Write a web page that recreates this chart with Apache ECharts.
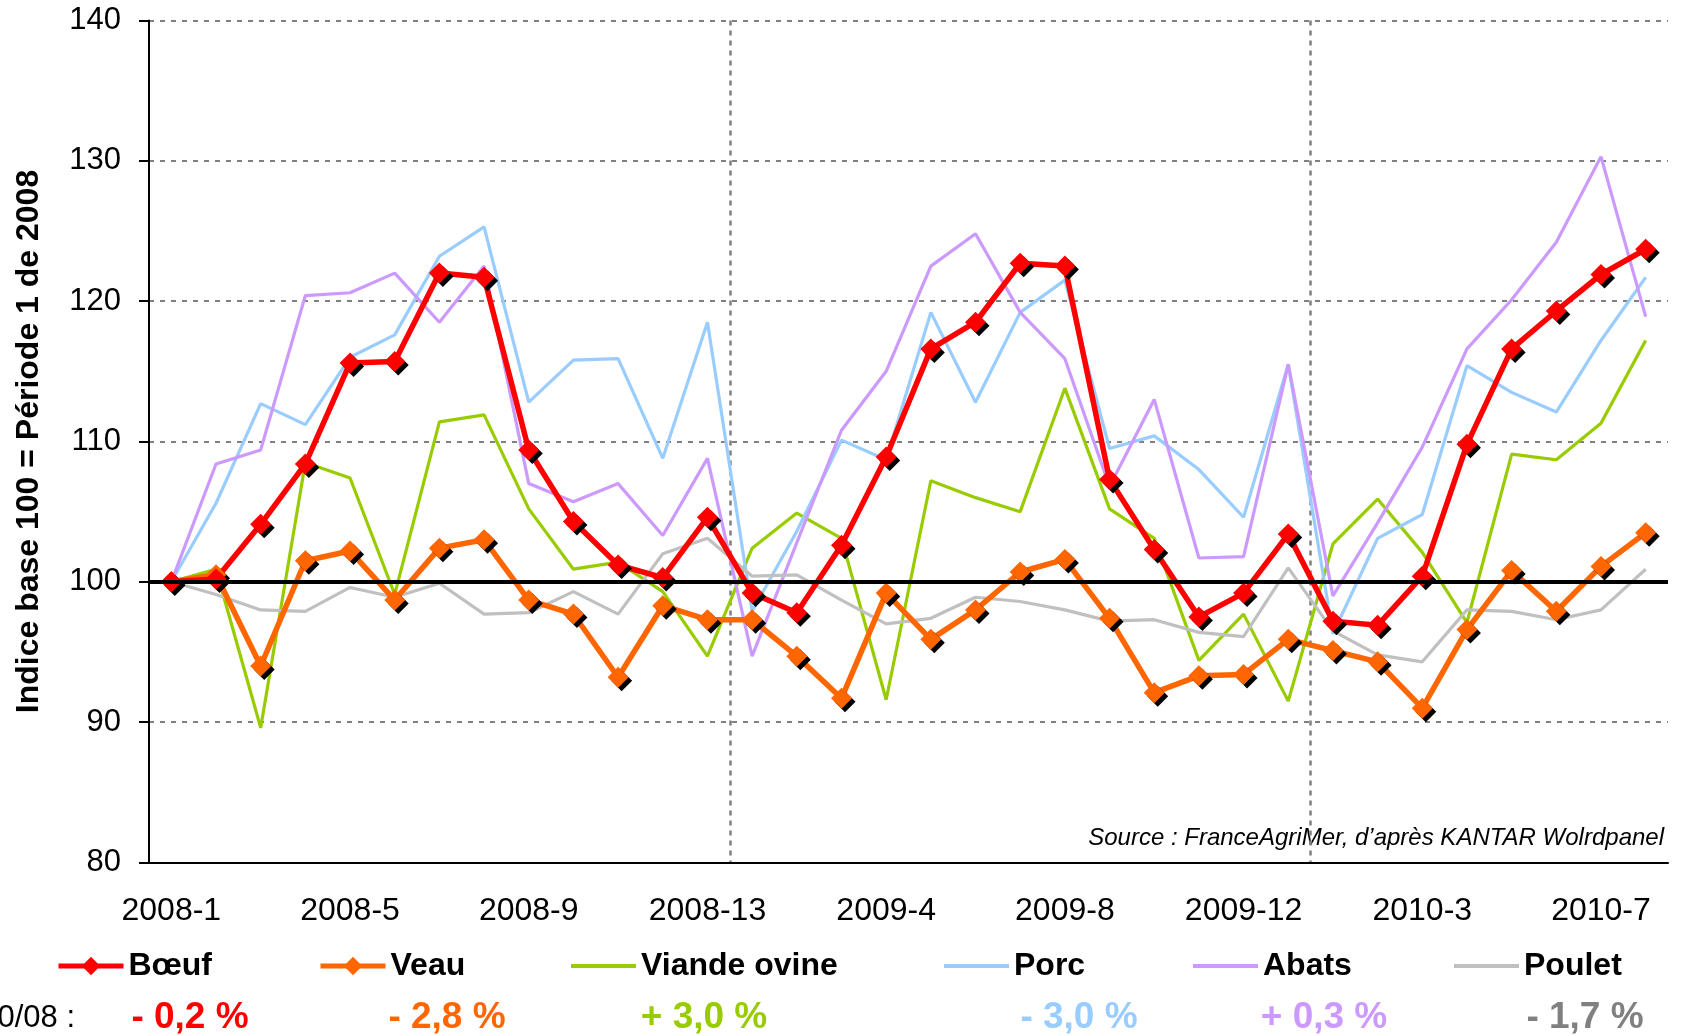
<!DOCTYPE html>
<html>
<head>
<meta charset="utf-8">
<title>Indice base 100</title>
<script src="https://cdn.jsdelivr.net/npm/echarts@6/dist/echarts.min.js"></script>
<style>
  html, body { margin: 0; padding: 0; background: #fff; }
  #chart { width: 1682px; height: 1036px; }
</style>
</head>
<body>
<div id="chart"></div>
<script>
// periods (13 per year)
const categories = [
  '2008-1', '2008-2', '2008-3', '2008-4', '2008-5', '2008-6', '2008-7', '2008-8', '2008-9', '2008-10', '2008-11', '2008-12', '2008-13',
  '2009-1', '2009-2', '2009-3', '2009-4', '2009-5', '2009-6', '2009-7', '2009-8', '2009-9', '2009-10', '2009-11', '2009-12', '2009-13',
  '2010-1', '2010-2', '2010-3', '2010-4', '2010-5', '2010-6', '2010-7', '2010-8'
]
// first period of each new year -> vertical separator
const yearStarts = ['2009-1', '2010-1']

const boeuf = [100.0, 100.2, 104.1, 108.4, 115.6, 115.7, 122.0, 121.7, 109.4, 104.3, 101.2, 100.3, 104.6,
  99.2, 97.8, 102.6, 108.9, 116.6, 118.5, 122.7, 122.5, 107.3, 102.3, 97.5, 99.2, 103.4,
  97.2, 96.9, 100.4, 109.8, 116.6, 119.3, 121.9, 123.7]
const veau = [100.0, 100.5, 94.0, 101.5, 102.2, 98.7, 102.4, 103.0, 98.7, 97.7, 93.2, 98.3, 97.3,
  97.3, 94.7, 91.7, 99.2, 95.9, 98.0, 100.7, 101.6, 97.4, 92.1, 93.3, 93.4, 95.9,
  95.1, 94.3, 91.0, 96.6, 100.8, 97.9, 101.1, 103.5]
const viandeOvine = [100.0, 100.9, 89.6, 108.5, 107.4, 99.1, 111.4, 111.9, 105.2, 100.9, 101.4, 99.3, 94.7,
  102.4, 104.9, 103.1, 91.6, 107.2, 106.0, 105.0, 113.8, 105.2, 103.1, 94.4, 97.7, 91.5,
  102.7, 105.9, 102.1, 97.1, 109.1, 108.7, 111.3, 117.2]
const porc = [100.0, 105.6, 112.7, 111.2, 116.0, 117.6, 123.2, 125.3, 112.8, 115.8, 115.9, 108.8, 118.5,
  97.9, 103.6, 110.1, 108.7, 119.2, 112.8, 119.2, 121.5, 109.5, 110.4, 108.0, 104.6, 115.5,
  96.3, 103.1, 104.8, 115.4, 113.5, 112.1, 117.2, 121.7]
const abats = [100.0, 108.4, 109.4, 120.4, 120.6, 122.0, 118.5, 122.5, 107.0, 105.7, 107.0, 103.3, 108.8,
  94.7, 102.8, 110.8, 115.0, 122.5, 124.8, 119.2, 115.9, 106.8, 113.0, 101.7, 101.8, 115.5,
  99.0, 104.2, 109.6, 116.6, 120.1, 124.2, 130.3, 118.9]
const poulet = [100.0, 99.1, 98.0, 97.9, 99.6, 98.9, 99.9, 97.7, 97.8, 99.3, 97.7, 102.0, 103.1,
  100.4, 100.5, 98.7, 97.0, 97.4, 98.9, 98.6, 98.0, 97.2, 97.3, 96.4, 96.1, 101.0,
  96.5, 94.8, 94.3, 98.0, 97.9, 97.3, 98.0, 100.9]

const baseLine = 100

const seriesNames = ['Bœuf', 'Veau', 'Viande ovine', 'Porc', 'Abats', 'Poulet']
const seriesColors = ['#FF0000', '#FF6600', '#99CC00', '#99CCFF', '#CC99FF', '#C0C0C0']
const hasMarker = [true, true, false, false, false, false]
const evolLabels = ['- 0,2 %', '- 2,8 %', '+ 3,0 %', '- 3,0 %', '+ 0,3 %', '- 1,7 %']
const evolColors = ['#FF0000', '#FF6600', '#99CC00', '#99CCFF', '#CC99FF', '#808080']

const FONT = '"Liberation Sans", Arial, sans-serif'

// legend and evolution row positions (x of left edge / center)
const legendLeft = [56, 318, 571, 944, 1193, 1454]
const evolCenter = [190, 447, 704, 1079, 1324, 1585]

const chart = echarts.init(document.getElementById('chart'))

const lineSeries = (name, data, i) => ({
  name: name,
  type: 'line',
  data: data,
  z: hasMarker[i] ? 4 : 2,
  symbol: hasMarker[i] ? 'diamond' : 'none',
  symbolSize: 21,
  showAllSymbol: true,
  color: seriesColors[i],
  lineStyle: { color: seriesColors[i], width: hasMarker[i] ? 5.5 : 3.2 },
  itemStyle: hasMarker[i] ? {
    color: seriesColors[i],
    shadowColor: '#000',
    shadowBlur: 0,
    shadowOffsetX: 3.5,
    shadowOffsetY: 3.5
  } : { color: seriesColors[i] },
  emphasis: { disabled: true }
})

// one legend per item so each can sit where it does in the original
const legends = seriesNames.map((n, i) => {
  const lg = {
    data: [n],
    left: legendLeft[i],
    top: 950,
    padding: 0,
    itemWidth: 65,
    selectedMode: false,
    textStyle: { fontFamily: FONT, fontSize: 32, fontWeight: 'bold', color: '#000' }
  }
  if (hasMarker[i]) {
    lg.itemHeight = 23
    lg.lineStyle = { width: 5 }
    lg.itemStyle = { shadowBlur: 0, shadowOffsetX: 0, shadowOffsetY: 0 }
  } else {
    lg.icon = 'rect'
    lg.itemHeight = 4
  }
  return lg
})

const graphics = [
  {
    type: 'text',
    right: 1682 - 1664,
    top: 826,
    style: {
      text: 'Source : FranceAgriMer, d’après KANTAR Wolrdpanel',
      font: 'italic 24px ' + FONT,
      fill: '#000'
    }
  },
  {
    type: 'text',
    x: 75,
    y: 1018,
    style: {
      text: '0/08 :',
      font: '31px ' + FONT,
      fill: '#000',
      textAlign: 'right',
      textVerticalAlign: 'middle'
    }
  }
].concat(evolLabels.map((t, i) => ({
  type: 'text',
  x: evolCenter[i],
  y: 1018,
  style: {
    text: t,
    font: 'bold 37px ' + FONT,
    fill: evolColors[i],
    textAlign: 'center',
    textVerticalAlign: 'middle'
  }
})))

const option = {
  animation: false,
  backgroundColor: '#fff',
  grid: {
    left: 149,
    right: 14,
    top: 20.5,
    bottom: 173.5,
    containLabel: false
  },
  legend: legends,
  xAxis: {
    type: 'category',
    data: categories,
    boundaryGap: true,
    axisLine: { lineStyle: { color: '#000', width: 2 } },
    axisTick: {
      length: 10,
      lineStyle: { color: '#000', width: 2 },
      interval: (idx, val) => yearStarts.includes(val)
    },
    axisLabel: {
      interval: 3,
      margin: 33,
      fontFamily: FONT,
      fontSize: 32,
      color: '#000'
    },
    splitLine: {
      show: true,
      showMaxLine: false,
      interval: (idx, val) => yearStarts.includes(val),
      lineStyle: { color: '#808080', width: 2.5, type: [5, 5] }
    }
  },
  yAxis: {
    type: 'value',
    min: 80,
    max: 140,
    interval: 10,
    name: 'Indice base 100 = Période 1 de 2008',
    nameLocation: 'middle',
    nameRotate: 90,
    nameGap: 104,
    nameTextStyle: { fontFamily: FONT, fontSize: 32, fontWeight: 'bold', color: '#000' },
    axisLine: { show: true, lineStyle: { color: '#000', width: 2 } },
    axisTick: { show: true, length: 10, lineStyle: { color: '#000', width: 2 } },
    axisLabel: { margin: 28, fontFamily: FONT, fontSize: 31, color: '#000' },
    splitLine: { lineStyle: { color: '#808080', width: 2, type: [5, 6] } }
  },
  series: [
    lineSeries(seriesNames[2], viandeOvine, 2),
    lineSeries(seriesNames[3], porc, 3),
    lineSeries(seriesNames[4], abats, 4),
    lineSeries(seriesNames[5], poulet, 5),
    lineSeries(seriesNames[1], veau, 1),
    lineSeries(seriesNames[0], boeuf, 0),
    {
      name: 'base',
      type: 'line',
      data: [],
      z: 10,
      markLine: {
        silent: true,
        symbol: 'none',
        label: { show: false },
        lineStyle: { color: '#000', width: 4, type: 'solid' },
        data: [{ yAxis: baseLine }]
      }
    }
  ],
  graphic: graphics
}

chart.setOption(option)
</script>
</body>
</html>
